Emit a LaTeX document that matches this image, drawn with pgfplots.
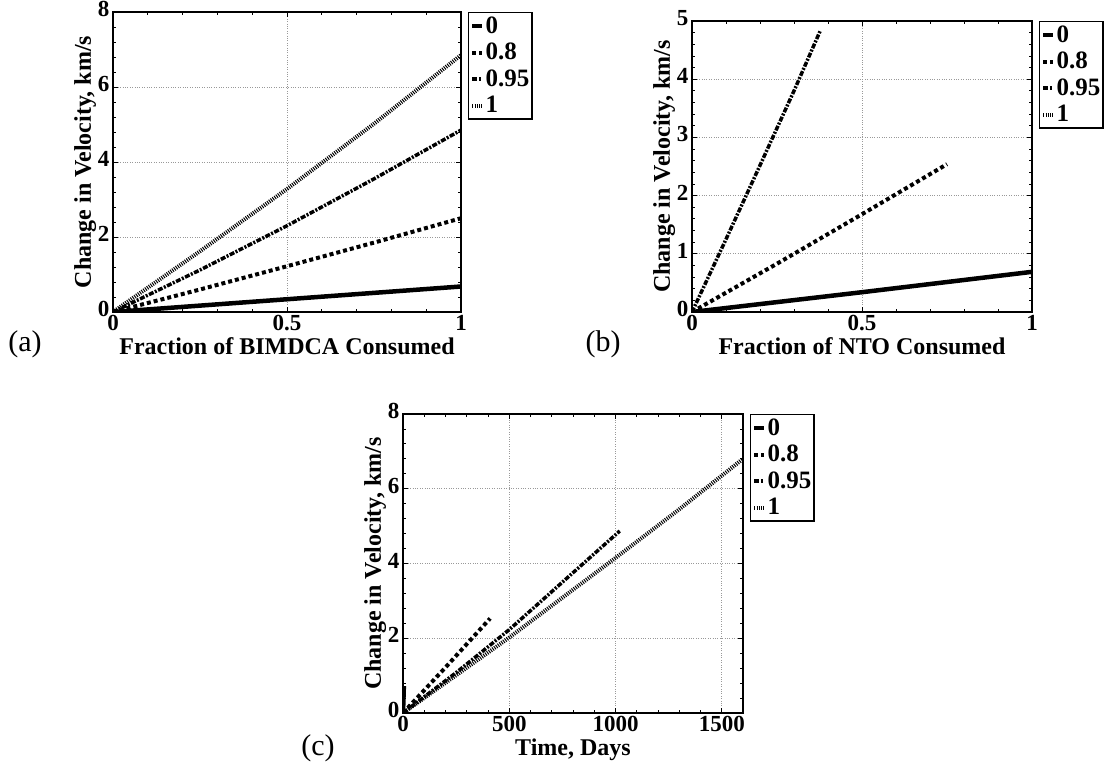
\documentclass[border=0pt]{standalone}
\usepackage{fontspec}
\setmainfont{Liberation Serif}
\usepackage{pgfplots}
\pgfplotsset{compat=1.18}
\pgfplotsset{
  myax/.style={
    scale only axis,
    axis line style={line width=1.3pt},
    tick style={black, line width=0.8pt},
    major tick length=5pt, minor tick length=3pt,
    tick align=inside,
    grid=major,
    major grid style={dotted, gray!80, line width=0.7pt},
    /pgf/number format/assume math mode=true,
    /pgf/number format/1000 sep={},
    ticklabel style={font=\bfseries\fontsize{23}{23}\selectfont},
    yticklabel style={yshift=3pt},
    label style={font=\bfseries\fontsize{24}{24}\selectfont},
    ylabel style={yshift=-5pt},
    xlabel style={yshift=0pt},
    ylabel={Change in Velocity, km/s},
    legend style={at={(1.02,1)}, anchor=north west, draw=black, line width=1.5pt,
      font=\bfseries\fontsize{25}{27}\selectfont, inner sep=1.5pt,
      nodes={text height=18pt, text depth=4pt, inner sep=1pt},
      row sep=2.5pt,
      legend cell align=left},
    legend image code/.code={\draw[##1] (0pt,0pt) -- (10pt,0pt);},
  },
  s0/.style={black, line width=4.5pt},
  s8/.style={black, line width=4pt, dash pattern=on 4pt off 3pt},
  s95/.style={black, line width=3.5pt, dash pattern=on 5pt off 1.5pt on 2pt off 1.5pt},
  s1/.style={black, line width=4pt, dash pattern=on 1pt off 1.2pt},
}
\begin{document}
\begin{tikzpicture}
\useasboundingbox (0,0) rectangle (1107pt,768pt);
% (a)
\begin{axis}[myax, at={(113pt,456pt)}, anchor=south west, width=348pt, height=300pt,
  xmin=0, xmax=1, ymin=0, ymax=8, xtick={0,0.5,1}, ytick={0,2,4,6,8},
  minor x tick num=4, minor y tick num=4,
  xlabel={Fraction of BIMDCA Consumed}]
\addplot[s0] coordinates {(0,0) (0.25,0.17) (0.5,0.34) (0.75,0.51) (1,0.68)};
\addlegendentry{0}
\addplot[s8] coordinates {(0,0) (0.25,0.6) (0.5,1.22) (0.75,1.85) (1,2.5)};
\addlegendentry{0.8}
\addplot[s95] coordinates {(0,0) (0.25,1.12) (0.5,2.3) (0.75,3.55) (1,4.85)};
\addlegendentry{0.95}
\addplot[s1] coordinates {(0,0) (0.25,1.62) (0.5,3.28) (0.75,5.02) (1,6.85)};
\addlegendentry{1}
\end{axis}
% (b)
\begin{axis}[myax, at={(692pt,456pt)}, anchor=south west, width=340pt, height=291pt,
  xmin=0, xmax=1, ymin=0, ymax=5, xtick={0,0.5,1}, ytick={0,1,2,3,4,5},
  minor x tick num=4, minor y tick num=4,
  xlabel={Fraction of NTO Consumed}]
\addplot[s0] coordinates {(0,0) (0.5,0.34) (1,0.69)};
\addlegendentry{0}
\addplot[s8] coordinates {(0,0) (0.25,0.83) (0.5,1.68) (0.75,2.54)};
\addlegendentry{0.8}
\addplot[s95] coordinates {(0,0) (0.1,1.25) (0.2,2.52) (0.3,3.8) (0.377,4.83)};
\addlegendentry{0.95}
\addlegendimage{s1}
\addlegendentry{1}
\end{axis}
% (c)
\begin{axis}[myax, at={(403pt,55pt)}, anchor=south west, width=340pt, height=299pt,
  xmin=0, xmax=1600, ymin=0, ymax=8, xtick={0,500,1000,1500}, ytick={0,2,4,6,8},
  minor x tick num=4, minor y tick num=4,
  xlabel={Time, Days}]
\addplot[s0] coordinates {(0,0) (4,0.72)};
\addlegendentry{0}
\addplot[s8] coordinates {(0,0) (200,1.22) (410,2.53)};
\addlegendentry{0.8}
\addplot[s95] coordinates {(0,0) (250,1.08) (500,2.23) (750,3.5) (1020,4.87)};
\addlegendentry{0.95}
\addplot[s1] coordinates {(0,0) (500,2.02) (1000,4.15) (1300,5.45) (1600,6.8)};
\addlegendentry{1}
\end{axis}
\node[font=\fontsize{30}{30}\selectfont] at (25pt,424pt) {(a)};
\node[font=\fontsize{30}{30}\selectfont] at (603pt,424pt) {(b)};
\node[font=\fontsize{30}{30}\selectfont] at (318pt,20pt) {(c)};
\end{tikzpicture}
\end{document}
